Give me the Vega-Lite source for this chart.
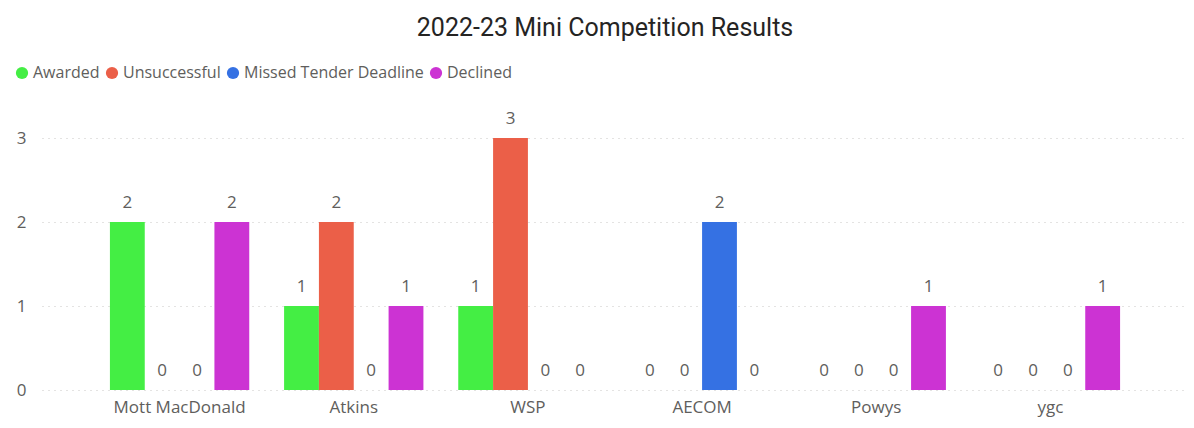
{
  "$schema": "https://vega.github.io/schema/vega-lite/v6.json",
  "width": 1146,
  "height": 252,
  "autosize": "none",
  "padding": {"left": 42, "top": 138, "right": 6, "bottom": 38},
  "background": "white",
  "title": {
    "text": "2022-23 Mini Competition Results",
    "anchor": "middle",
    "frame": "group",
    "dx": -10,
    "offset": 24,
    "font": "Roboto",
    "fontSize": 25,
    "fontWeight": "normal",
    "color": "#252423"
  },
  "data": {
    "values": [
      {"Company": "Mott MacDonald", "Status": "Awarded", "Count": 2},
      {"Company": "Mott MacDonald", "Status": "Unsuccessful", "Count": 0},
      {"Company": "Mott MacDonald", "Status": "Missed Tender Deadline", "Count": 0},
      {"Company": "Mott MacDonald", "Status": "Declined", "Count": 2},
      {"Company": "Atkins", "Status": "Awarded", "Count": 1},
      {"Company": "Atkins", "Status": "Unsuccessful", "Count": 2},
      {"Company": "Atkins", "Status": "Missed Tender Deadline", "Count": 0},
      {"Company": "Atkins", "Status": "Declined", "Count": 1},
      {"Company": "WSP", "Status": "Awarded", "Count": 1},
      {"Company": "WSP", "Status": "Unsuccessful", "Count": 3},
      {"Company": "WSP", "Status": "Missed Tender Deadline", "Count": 0},
      {"Company": "WSP", "Status": "Declined", "Count": 0},
      {"Company": "AECOM", "Status": "Awarded", "Count": 0},
      {"Company": "AECOM", "Status": "Unsuccessful", "Count": 0},
      {"Company": "AECOM", "Status": "Missed Tender Deadline", "Count": 2},
      {"Company": "AECOM", "Status": "Declined", "Count": 0},
      {"Company": "Powys", "Status": "Awarded", "Count": 0},
      {"Company": "Powys", "Status": "Unsuccessful", "Count": 0},
      {"Company": "Powys", "Status": "Missed Tender Deadline", "Count": 0},
      {"Company": "Powys", "Status": "Declined", "Count": 1},
      {"Company": "ygc", "Status": "Awarded", "Count": 0},
      {"Company": "ygc", "Status": "Unsuccessful", "Count": 0},
      {"Company": "ygc", "Status": "Missed Tender Deadline", "Count": 0},
      {"Company": "ygc", "Status": "Declined", "Count": 1}
    ]
  },
  "encoding": {
    "x": {
      "field": "Company",
      "type": "nominal",
      "sort": ["Mott MacDonald", "Atkins", "WSP", "AECOM", "Powys", "ygc"],
      "scale": {"paddingInner": 0.2, "paddingOuter": 0.39},
      "axis": {
        "title": null,
        "labelAngle": 0,
        "domain": false,
        "ticks": false,
        "grid": false,
        "labelPadding": 9,
        "labelFont": "Open Sans",
        "labelFontSize": 17,
        "labelColor": "#605E5C"
      }
    },
    "xOffset": {
      "field": "Status",
      "type": "nominal",
      "sort": ["Awarded", "Unsuccessful", "Missed Tender Deadline", "Declined"],
      "scale": {"paddingInner": 0, "paddingOuter": 0}
    },
    "y": {
      "field": "Count",
      "type": "quantitative",
      "scale": {"domain": [0, 3], "nice": false},
      "axis": {
        "title": null,
        "values": [0, 1, 2, 3],
        "format": "d",
        "domain": false,
        "ticks": false,
        "grid": true,
        "gridColor": "#C8C6C4",
        "gridDash": [1, 5],
        "gridWidth": 1,
        "labelPadding": 16,
        "labelFont": "Open Sans",
        "labelFontSize": 17,
        "labelColor": "#605E5C"
      }
    }
  },
  "layer": [
    {
      "mark": {"type": "bar"},
      "encoding": {
        "color": {
          "field": "Status",
          "type": "nominal",
          "sort": ["Awarded", "Unsuccessful", "Missed Tender Deadline", "Declined"],
          "scale": {
            "domain": ["Awarded", "Unsuccessful", "Missed Tender Deadline", "Declined"],
            "range": ["#44EE44", "#EB5F48", "#3571E3", "#CC33D3"]
          },
          "legend": {
            "title": null,
            "orient": "none",
            "legendX": -28,
            "legendY": -73,
            "direction": "horizontal",
            "symbolType": "circle",
            "symbolSize": 150,
            "symbolStrokeWidth": 0,
            "symbolOpacity": 1,
            "labelFont": "Open Sans",
            "labelFontSize": 16,
            "labelLimit": 400,
            "labelColor": "#605E5C",
            "labelOffset": 3,
            "columnPadding": 4,
            "padding": 0
          }
        }
      }
    },
    {
      "mark": {
        "type": "text",
        "baseline": "middle",
        "dy": -19,
        "font": "Open Sans",
        "fontSize": 17,
        "color": "#605E5C"
      },
      "encoding": {
        "text": {"field": "Count", "type": "quantitative"}
      }
    }
  ],
  "config": {
    "view": {"stroke": null}
  }
}
